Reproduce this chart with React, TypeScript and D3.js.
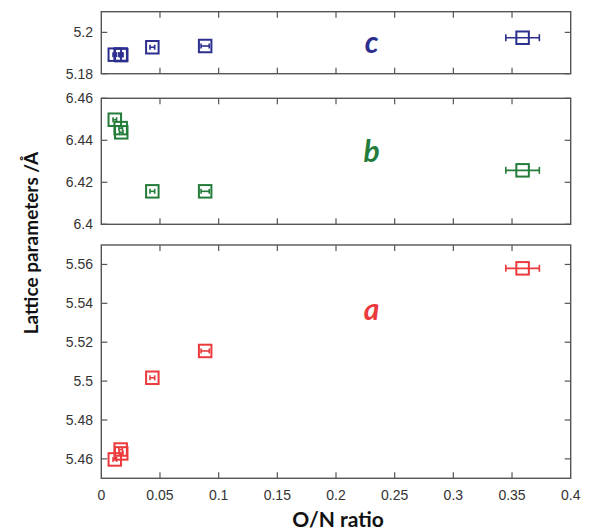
import React from "react";
import * as d3 from "d3";

// O/N ratio of each sample
const onRatio = [0.0115, 0.0165, 0.017, 0.0435, 0.0885, 0.359];
const onErr = [0.0015, 0.0015, 0.0015, 0.002, 0.0035, 0.0143];
// lattice parameters (Å)
const aVals = [5.4597, 5.4648, 5.4628, 5.5017, 5.5155, 5.558];
const bVals = [6.4498, 6.4458, 6.4438, 6.4157, 6.4157, 6.4257];
const cVals = [5.1892, 5.1893, 5.189, 5.1928, 5.1934, 5.1974];

const xTicks = [0, 0.05, 0.1, 0.15, 0.2, 0.25, 0.3, 0.35, 0.4];
const cTicks = [5.18, 5.2];
const bTicks = [6.4, 6.42, 6.44, 6.46];
const aTicks = [5.46, 5.48, 5.5, 5.52, 5.54, 5.56];

const W = 601;
const H = 531;
const left = 101.3;
const right = 570.7;

const x = d3.scaleLinear().domain([0, 0.4]).range([left, right]);

type Panel = {
  name: string;
  vals: number[];
  domain: [number, number];
  top: number;
  bottom: number;
  ticks: number[];
  color: string;
  labelY: number;
};

const panels: Panel[] = [
  { name: "c", vals: cVals, domain: [5.18, 5.21], top: 11.7, bottom: 73.7, ticks: cTicks, color: "#2c2f8e", labelY: 5.196 },
  { name: "b", vals: bVals, domain: [6.4, 6.46], top: 98.3, bottom: 224.3, ticks: bTicks, color: "#247c3a", labelY: 6.4355 },
  { name: "a", vals: aVals, domain: [5.45, 5.57], top: 245, bottom: 478.3, ticks: aTicks, color: "#ec3a3c", labelY: 5.5376 },
];

const fmt = (v: number) => String(+v.toFixed(3));
const axisColor = "#555";
const tickFont = "'Liberation Sans', Arial, sans-serif";
const titleFont = "Lato, 'Open Sans', sans-serif";

function PanelView({ p }: { p: Panel }) {
  const y = d3.scaleLinear().domain(p.domain).range([p.bottom, p.top]);
  const tl = 6;
  const s = 12.5;
  return (
    <g>
      <rect x={left} y={p.top} width={right - left} height={p.bottom - p.top} fill="none" stroke={axisColor} strokeWidth={1.4} />
      {xTicks.slice(1, -1).map((t) => (
        <g key={"xt" + t} stroke={axisColor} strokeWidth={1.2}>
          <line x1={x(t)} x2={x(t)} y1={p.top} y2={p.top + tl} />
          <line x1={x(t)} x2={x(t)} y1={p.bottom} y2={p.bottom - tl} />
        </g>
      ))}
      {p.ticks.map((t) => (
        <g key={"yt" + t}>
          <line x1={left} x2={left + tl} y1={y(t)} y2={y(t)} stroke={axisColor} strokeWidth={1.2} />
          <line x1={right} x2={right - tl} y1={y(t)} y2={y(t)} stroke={axisColor} strokeWidth={1.2} />
          <text x={93} y={y(t)} textAnchor="end" dominantBaseline="central" fontFamily={tickFont} fontSize={14} fill="#333">
            {fmt(t)}
          </text>
        </g>
      ))}
      {p.vals.map((v, i) => {
        const cx = x(onRatio[i]);
        const cy = y(v);
        const x0 = x(onRatio[i] - onErr[i]);
        const x1 = x(onRatio[i] + onErr[i]);
        const cap = onErr[i] > 0.01 ? 3.5 : 2.5;
        return (
          <g key={i} stroke={p.color} fill="none" strokeWidth={2}>
            <rect x={cx - s / 2} y={cy - s / 2} width={s} height={s} />
            <line x1={x0} x2={x1} y1={cy} y2={cy} strokeWidth={1.6} />
            <line x1={x0} x2={x0} y1={cy - cap} y2={cy + cap} strokeWidth={1.6} />
            <line x1={x1} x2={x1} y1={cy - cap} y2={cy + cap} strokeWidth={1.6} />
          </g>
        );
      })}
      <text
        x={x(0.2304)}
        y={y(p.labelY)}
        textAnchor="middle"
        dominantBaseline="central"
        fontFamily={titleFont}
        fontStyle="italic"
        fontWeight="bold"
        fontSize={30}
        fill={p.color}
      >
        {p.name}
      </text>
    </g>
  );
}

export default function App() {
  const bottomPanel = panels[2];
  return (
    <svg width={W} height={H} style={{ position: "absolute", left: 0, top: 0, background: "#fff" }}>
      <rect x={0} y={0} width={W} height={H} fill="#fff" />
      {panels.map((p) => (
        <PanelView key={p.name} p={p} />
      ))}
      {xTicks.map((t) => (
        <text key={"xl" + t} x={x(t)} y={bottomPanel.bottom + 17} textAnchor="middle" dominantBaseline="central" fontFamily={tickFont} fontSize={14} fill="#333">
          {fmt(t)}
        </text>
      ))}
      <text x={338} y={527} textAnchor="middle" fontFamily={titleFont} fontWeight="bold" fontSize={21} fill="#111">
        O/N ratio
      </text>
      <text
        transform={`translate(38,243) rotate(-90)`}
        textAnchor="middle"
        fontFamily={titleFont}
        fontWeight="bold"
        fontSize={19}
        fill="#111"
      >
        Lattice parameters /Å
      </text>
    </svg>
  );
}
